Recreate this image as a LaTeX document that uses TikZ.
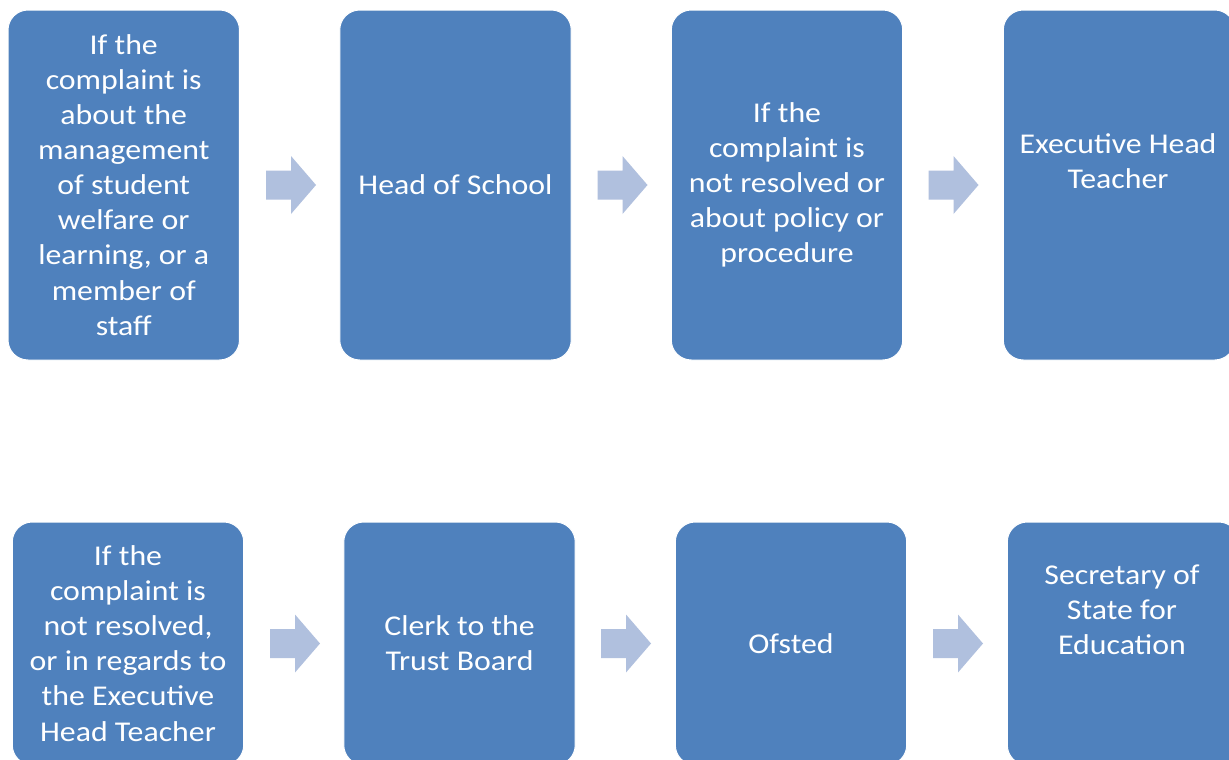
\documentclass[tikz,border=0pt]{standalone}
\usepackage{fontspec}
\setmainfont{Carlito}[FakeStretch=1.11]
\usepackage{tikz}
\usetikzlibrary{shapes}
\definecolor{boxblue}{RGB}{79,129,189}
\definecolor{arrowblue}{RGB}{176,192,222}
\newcommand{\flowfont}{\fontsize{21.5}{26.3}\selectfont}
\tikzset{
	stagebox/.style={rectangle, rounded corners=15pt, fill=boxblue, draw=white, line width=0.75pt, text=white, align=center, inner sep=0pt, minimum width=173.6pt, font=\flowfont},
	toprow/.style={stagebox, minimum height=262.5pt},
	botrow/.style={stagebox, minimum height=182.25pt},
	stagetext/.style={text=white, align=center, inner sep=0pt, font=\flowfont}
}
\begin{document}
\begin{tikzpicture}[x=0.75pt, y=-0.75pt]
			\clip (0,0) rectangle (1229,760);
			\fill[white] (0,0) rectangle (1229,760);
			
			\node[toprow](complaint) at (123.75,185) {If the\\complaint is\\about the\\management\\of student\\welfare or\\learning, or a\\member of\\staff};
			\node[toprow](head) at (455.5,185) {Head of School};
			\node[toprow](policy) at (787,185) {If the\\complaint is\\not resolved or\\about policy or\\procedure};
			\node[toprow](executive) at (1119,185) {};
			\node[stagetext](executivetext) at (1118,161) {Executive Head\\Teacher};
			
			\node[botrow](unresolved) at (128,643.5) {If the\\complaint is\\not resolved,\\or in regards to\\the Executive\\Head Teacher};
			\node[botrow](clerk) at (459.5,643.5) {Clerk to the\\Trust Board};
			\node[botrow](ofsted) at (791,643.5) {Ofsted};
			\node[botrow](secretary) at (1123,643.5) {};
			\node[stagetext](secretarytext) at (1122,610) {Secretary of\\State for\\Education};
			
			\coordinate[](a1) at (291,185);
			\coordinate[](a2) at (622.5,185);
			\coordinate[](a3) at (953.5,185);
			\coordinate[](a4) at (295,643.5);
			\coordinate[](a5) at (626,643.5);
			\coordinate[](a6) at (958,643.5);
			
			\fill[arrowblue](a1) ++(-25,-14.5) -- ++(25,0) -- ++(0,-14.5) -- ++(25,29) -- ++(-25,29) -- ++(0,-14.5) -- ++(-25,0) -- cycle;
			\fill[arrowblue](a2) ++(-25,-14.5) -- ++(25,0) -- ++(0,-14.5) -- ++(25,29) -- ++(-25,29) -- ++(0,-14.5) -- ++(-25,0) -- cycle;
			\fill[arrowblue](a3) ++(-25,-14.5) -- ++(25,0) -- ++(0,-14.5) -- ++(25,29) -- ++(-25,29) -- ++(0,-14.5) -- ++(-25,0) -- cycle;
			\fill[arrowblue](a4) ++(-25,-14.5) -- ++(25,0) -- ++(0,-14.5) -- ++(25,29) -- ++(-25,29) -- ++(0,-14.5) -- ++(-25,0) -- cycle;
			\fill[arrowblue](a5) ++(-25,-14.5) -- ++(25,0) -- ++(0,-14.5) -- ++(25,29) -- ++(-25,29) -- ++(0,-14.5) -- ++(-25,0) -- cycle;
			\fill[arrowblue](a6) ++(-25,-14.5) -- ++(25,0) -- ++(0,-14.5) -- ++(25,29) -- ++(-25,29) -- ++(0,-14.5) -- ++(-25,0) -- cycle;
\end{tikzpicture}
\end{document}
